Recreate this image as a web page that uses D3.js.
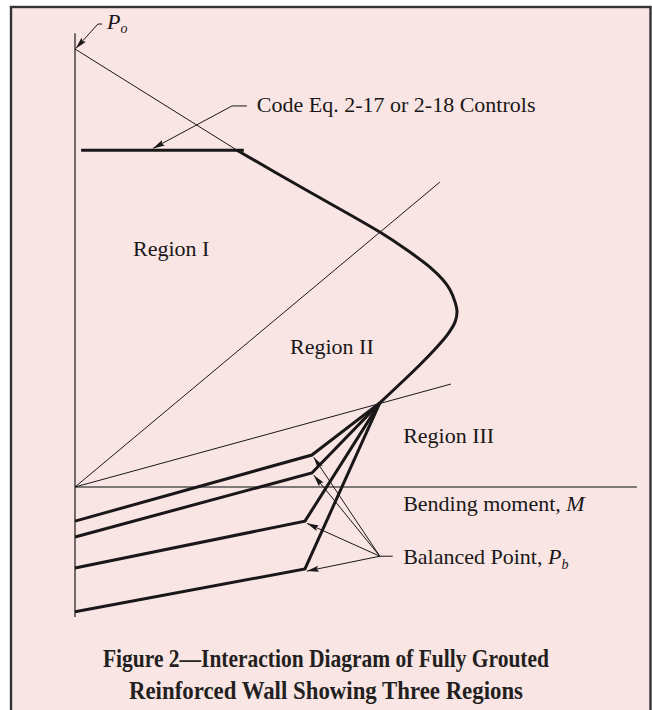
<!DOCTYPE html>
<html><head><meta charset="utf-8">
<script src="https://cdn.jsdelivr.net/npm/d3@7"></script>
<style>body{margin:0;background:#fff}</style>
</head><body><svg id="c" width="652" height="710"></svg>
<script>
// ---- data (moment M, axial load P; P_o = 100, max moment = 100) ----
const interactionCurve = [[42.4,76.9],[58.9,68.6],[79.8,58.2],[86.9,54.1],[92.9,50.2],[96.3,47.3],[98.2,45.0],[99.5,42.2],[100,40.0],[99.5,37.7],[97.6,34.9],[95.0,32.2],[90.3,27.9],[79.8,19.2]];
const codeCap = [[1.6,76.9],[44.2,76.9]];
const poLine = [[0,100],[42.4,76.9]];
const boundaryI_II = [[0,0],[95.5,69.6]];
const boundaryII_III = [[0,0],[98.4,23.5]];
const balancedPoint = [79.8,19.2];
const tensionStarts = [-7.8,-11.4,-18.5,-28.5];
const tensionKinks = [[62.0,7.3],[62.0,3.2],[60.2,-7.8],[60.2,-18.7]];
const axisM = [0,147.1];
const axisP = [-29.7,103.6];
const regionLabels = ["Region I","Region II","Region III"];
const regionPos = [[15.2,52.7],[56.3,30.4],[85.9,10.0]];
const codeLabel = "Code Eq. 2-17 or 2-18 Controls";
const momentLabel = "Bending moment, ";
const balancedLabel = "Balanced Point, ";
const captionLines = ["Figure 2\u2014Interaction Diagram of Fully Grouted","Reinforced Wall Showing Three Regions"];

const svg = d3.select("#c");
const x = d3.scaleLinear().domain([0,100]).range([75,457]);
const y = d3.scaleLinear().domain([0,100]).range([487,49]);
const ink = "#1a1718";
const font = "'Liberation Serif','Times New Roman',serif";

// frame
svg.append("rect").attr("x",11).attr("y",7).attr("width",639.5).attr("height",720)
  .attr("fill","#f9e5e4").attr("stroke","#333").attr("stroke-width",2.4);

const defs = svg.append("defs");
defs.append("marker").attr("id","ah").attr("viewBox","0 0 12 6").attr("refX",12).attr("refY",3)
  .attr("markerWidth",12).attr("markerHeight",6).attr("markerUnits","userSpaceOnUse").attr("orient","auto")
  .append("path").attr("d","M0,0L12,3L0,6L2,3Z").attr("fill",ink);

const line = d3.line().x(d=>x(d[0])).y(d=>y(d[1]));
const g = svg.append("g");

// axes
g.append("path").attr("d",line([[0,axisP[0]],[0,axisP[1]]])).attr("stroke",ink).attr("stroke-width",1.2).attr("fill","none");
g.append("path").attr("d",line([[axisM[0],0],[axisM[1],0]])).attr("stroke","#555").attr("stroke-width",1.5).attr("fill","none");

// thin lines
[poLine,boundaryI_II,boundaryII_III].forEach(d=>{
  g.append("path").attr("d",line(d)).attr("stroke",ink).attr("stroke-width",1).attr("fill","none");
});

// thick lines
g.append("path").attr("d",line(codeCap)).attr("stroke",ink).attr("stroke-width",3).attr("fill","none");
g.append("path").attr("d",line.curve(d3.curveCatmullRom)(interactionCurve)).attr("stroke",ink).attr("stroke-width",3).attr("fill","none").attr("stroke-linejoin","round");
line.curve(d3.curveLinear);
tensionKinks.forEach((k,i)=>{
  g.append("path").attr("d",line([[0,tensionStarts[i]],k,balancedPoint]))
    .attr("stroke",ink).attr("stroke-width",3).attr("fill","none").attr("stroke-linejoin","miter");
});

// leaders
function leader(pts){
  g.append("path").attr("d",line(pts)).attr("stroke",ink).attr("stroke-width",1).attr("fill","none").attr("marker-end","url(#ah)");
}
leader([[7.1,105.7],[6.0,105.7],[0.2,100.1]]);
leader([[45.0,87.0],[41.1,87.0],[20.4,77.3]]);
const bpFrom = [79.8,-15.8];
g.append("path").attr("d",line([[83.2,-15.8],bpFrom])).attr("stroke",ink).attr("stroke-width",1).attr("fill","none");
tensionKinks.forEach(k=>leader([bpFrom,[k[0]+0.5,k[1]-0.5]]));

// text
const T = (xx,yy,s)=>svg.append("text").attr("x",xx).attr("y",yy).attr("font-family",font).attr("font-size",22).attr("fill",ink).text(s);
regionLabels.forEach((r,i)=>T(x(regionPos[i][0]),y(regionPos[i][1]),r));
T(x(47.6),y(85.6),codeLabel);
const bm = T(x(85.9),y(-5.5),momentLabel);
bm.append("tspan").attr("font-style","italic").text("M");
const bp = T(x(85.9),y(-17.6),balancedLabel);
bp.append("tspan").attr("font-style","italic").text("P");
bp.append("tspan").attr("font-style","italic").attr("font-size",14).attr("dy",5).text("b");
const po = T(x(8.4),y(104.6),"");
po.append("tspan").attr("font-style","italic").text("P");
po.append("tspan").attr("font-style","italic").attr("font-size",14).attr("dy",4).text("o");

const capLen=[446,394];
captionLines.forEach((c,i)=>{
  svg.append("text").attr("x",326).attr("y",667+i*32).attr("text-anchor","middle")
    .attr("font-family",font).attr("font-weight","bold").attr("font-size",24.5).attr("fill","#231f20")
    .attr("textLength",capLen[i]).attr("lengthAdjust","spacingAndGlyphs").text(c);
});
</script></body></html>
